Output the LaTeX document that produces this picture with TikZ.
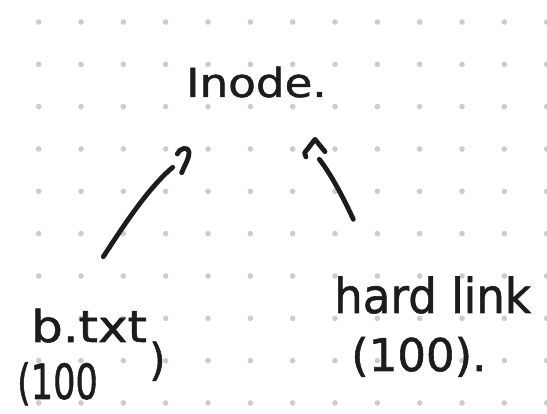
\documentclass[tikz,border=0pt]{standalone}
\usepackage{fontspec}
\setmainfont{DejaVu Sans}
\newfontfamily\handfont[FakeBold=1.2]{DejaVu Sans}
\definecolor{dotgray}{HTML}{CCCCCC}
\definecolor{ink}{HTML}{1C1C1C}
\tikzset{
  pen/.style={draw=ink, line width=4.8pt, line cap=round, line join=round},
  hand/.style={text=ink, inner sep=0pt, anchor=base west, font=\handfont},
}
\newcommand{\penfont}[1]{\fontsize{#1}{#1}\selectfont}
\begin{document}
\begin{tikzpicture}[x=1pt,y=-1pt]
  \useasboundingbox (0,0) rectangle (547,414);
  \fill[white] (0,0) rectangle (547,414);
  % dotted grid paper
  \begin{scope}
    \clip (0,0) rectangle (547,414);
    \foreach \i in {0,...,12}
      \foreach \j in {0,...,9}
        \fill[dotgray] (38.7+42.33*\i, 22+42.33*\j) circle[radius=2.8pt];
  \end{scope}

  % labels
  \node[hand, xscale=1.13] (inode) at (186,97) {\penfont{40}Inode.};
  \node[hand, xscale=1.13] (btxt) at (31,342) {\penfont{44}b.txt};
  \node[hand, xscale=0.78, yscale=1.08] (bnum) at (17,399) {\penfont{45}(100};
  \node[hand, yscale=1.05] (bclose) at (149,375) {\penfont{42})};
  \node[hand, xscale=0.94] (hlink) at (334,313) {\penfont{48}hard link};
  \node[hand] (hnum) at (351,371) {\penfont{45}(100).};

  % connector ends
  \coordinate (la) at (103.3,256.7);
  \coordinate (lb) at (172.7,167.3);
  \coordinate (ra) at (353.3,219.3);
  \coordinate (rb) at (319.3,159.3);

  % b.txt -> Inode
  \draw[pen] (la) .. controls (122,228) and (148,188) .. (lb);
  \draw[pen] (177.3,154) .. controls (179,148) and (189,146) .. (189,152)
                         .. controls (189,160) and (184,166) .. (181.7,172.7);
  % hard link -> Inode
  \draw[pen] (ra) .. controls (344,199) and (331,174) .. (rb);
  \draw[pen] (306,157) -- (304.5,153) -- (315,139.3) -- (325,151.7);
\end{tikzpicture}
\end{document}
